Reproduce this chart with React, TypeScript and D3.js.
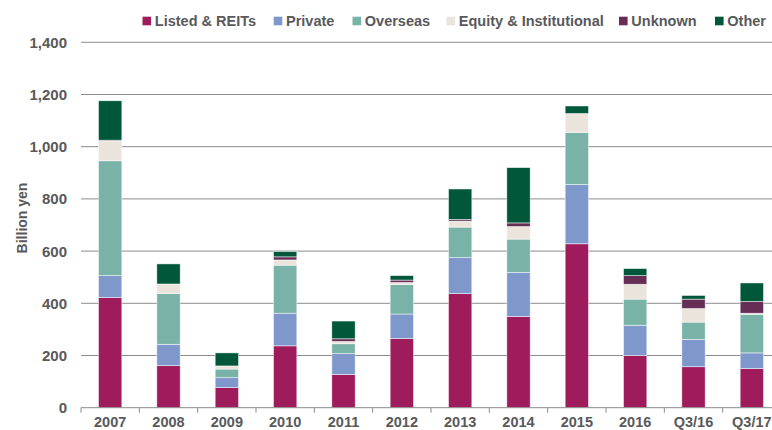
import React from "react";
import * as d3 from "d3";

const categories = ["2007", "2008", "2009", "2010", "2011", "2012", "2013", "2014", "2015", "2016", "Q3/16", "Q3/17"];
const seriesNames = ["Listed & REITs", "Private", "Overseas", "Equity & Institutional", "Unknown", "Other"];
const listed = [422, 161, 77, 237, 127, 265, 437, 349, 628, 200, 157, 150];
const privateV = [84, 82, 38, 125, 80, 94, 138, 169, 227, 116, 105, 60];
const overseas = [440, 194, 33, 184, 38, 113, 117, 128, 200, 100, 66, 148];
const equity = [76, 37, 12, 20, 9, 8, 23, 48, 72, 57, 52, 4];
const unknown = [3, 0, 0, 12, 10, 9, 6, 14, 0, 33, 36, 45];
const other = [151, 77, 50, 20, 68, 17, 117, 212, 29, 27, 14, 71];
const yTicks = [0, 200, 400, 600, 800, 1000, 1200, 1400];

const colors = ["#9e1b5c", "#7f98cb", "#79b2a6", "#eae4dc", "#662e54", "#00573a"];
const legendX = [142.5, 273.7, 352.5, 446.5, 619, 715];

const W = 772;
const H = 430;
const plotLeft = 81;
const plotRight = 781;
const yTop = 42.3;
const yBottom = 407.7;
const textColor = "#58595b";
const font = "'Liberation Sans', Arial, Helvetica, sans-serif";

export default function App() {
  const seriesVals = [listed, privateV, overseas, equity, unknown, other];
  const rows = categories.map((c, i) => {
    const r: any = { cat: c };
    seriesNames.forEach((s, j) => (r[s] = seriesVals[j][i]));
    return r;
  });
  const stack = d3.stack<any>().keys(seriesNames)(rows);
  const x = d3.scaleBand().domain(categories).range([plotLeft, plotRight]).paddingInner(0.6).paddingOuter(0.3);
  const y = d3.scaleLinear().domain([0, 1400]).range([yBottom, yTop]);
  const step = x.step();
  const boundaries = d3.range(categories.length + 1).map((k) => plotLeft + k * step);

  return (
    <svg width={W} height={H} style={{ position: "absolute", left: 0, top: 0, background: "#fff" }}>
      {yTicks.filter((t) => t > 0).map((t) => (
        <line key={t} x1={plotLeft} x2={W} y1={y(t)} y2={y(t)} stroke="#8c8c8c" strokeWidth={1} />
      ))}
      {stack.map((layer, j) => (
        <g key={layer.key} fill={colors[j]}>
          {layer.map((d, i) => {
            const h = y(d[0]) - y(d[1]);
            if (h <= 0) return null;
            return (
              <rect
                key={i}
                x={x(categories[i])}
                y={y(d[1])}
                width={x.bandwidth()}
                height={h}
                stroke="#ffffff"
                strokeOpacity={0.7}
                strokeWidth={0.7}
              />
            );
          })}
        </g>
      ))}
      <line x1={plotLeft} x2={W} y1={yBottom} y2={yBottom} stroke="#8c8c8c" strokeWidth={1} />
      {boundaries.map((bx, k) => (
        <line key={k} x1={bx} x2={bx} y1={yBottom} y2={yBottom + 5} stroke="#8c8c8c" strokeWidth={1} />
      ))}
      {yTicks.map((t) => (
        <text
          key={t}
          x={67}
          y={y(t)}
          dy="0.36em"
          textAnchor="end"
          fontFamily={font}
          fontWeight={700}
          fontSize={15}
          fill={textColor}
        >
          {d3.format(",")(t)}
        </text>
      ))}
      {categories.map((c) => (
        <text
          key={c}
          x={(x(c) as number) + x.bandwidth() / 2}
          y={427}
          textAnchor="middle"
          fontFamily={font}
          fontWeight={700}
          fontSize={14.5}
          fill={textColor}
        >
          {c}
        </text>
      ))}
      <text
        transform="translate(27,218) rotate(-90)"
        textAnchor="middle"
        fontFamily={font}
        fontWeight={700}
        fontSize={14}
        fill={textColor}
      >
        Billion yen
      </text>
      {seriesNames.map((s, j) => (
        <g key={s} transform={`translate(${legendX[j]},0)`}>
          <rect x={0} y={16.7} width={8.6} height={8.6} fill={colors[j]} />
          <text x={12.3} y={26.3} fontFamily={font} fontWeight={700} fontSize={14.5} fill={textColor}>
            {s}
          </text>
        </g>
      ))}
    </svg>
  );
}
